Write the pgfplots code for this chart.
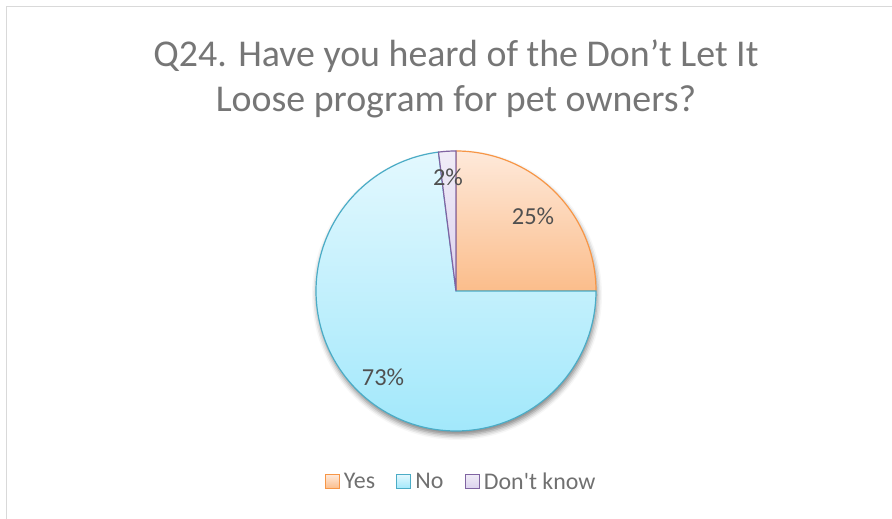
\documentclass[border=0pt]{standalone}
\usepackage{pgfplots}
\pgfplotsset{compat=1.18}
\usepackage{pgfplotstable}
\usepackage{fontspec}
\setmainfont{Carlito}
\newfontfamily\plainfont{Carlito}
\usetikzlibrary{shadows.blur}

\definecolor{titlegray}{HTML}{767676}
\definecolor{labelgray}{HTML}{505050}
\definecolor{legendgray}{HTML}{707070}
\definecolor{framegray}{HTML}{D9D9D9}
\definecolor{yesline}{HTML}{F79646}
\definecolor{yestop}{HTML}{FEE9DA}
\definecolor{yesbot}{HTML}{FBBD8B}
\definecolor{noline}{HTML}{4BACC6}
\definecolor{notop}{HTML}{E3F8FE}
\definecolor{nobot}{HTML}{A2E8FB}
\definecolor{dkline}{HTML}{8064A2}
\definecolor{dktop}{HTML}{F0ECF7}
\definecolor{dkbot}{HTML}{DCD2EE}

% answer shares in percent
\pgfplotstableread{
answer share
Yes    25
No     73
DK     2
}\piedata

\pgfplotstablegetelem{0}{share}\of\piedata \let\sYes\pgfplotsretval
\pgfplotstablegetelem{1}{share}\of\piedata \let\sNo\pgfplotsretval
\pgfplotstablegetelem{2}{share}\of\piedata \let\sDK\pgfplotsretval

% slices run clockwise from twelve o'clock
\pgfmathsetmacro\aA{90}
\pgfmathsetmacro\aB{\aA-3.6*\sYes}
\pgfmathsetmacro\aC{\aB-3.6*\sNo}
\pgfmathsetmacro\aD{\aC-3.6*\sDK}

\def\cx{456}
\def\cy{228}
\def\r{140}

\begin{document}
\begin{tikzpicture}
\begin{axis}[
  scale only axis, width=892bp, height=519bp,
  xmin=0, xmax=892, ymin=0, ymax=519,
  hide axis, clip=false,
  legend columns=3,
  legend style={at={(axis cs:461,37)}, anchor=center, draw=none, fill=none,
    font=\plainfont\fontsize{24}{28}\selectfont\color{legendgray},
    /tikz/every odd column/.append style={column sep=2bp},
    /tikz/every even column/.append style={column sep=19bp}},
  legend image code/.code={\draw[#1, line width=1.4bp] (0bp,-6.5bp) rectangle (14bp,7.5bp);},
]
% chart frame
\draw[framegray, line width=1.5bp] (axis cs:6.5,0) -- (axis cs:6.5,512.5) -- (axis cs:892,512.5);

% soft shadow under the pie
\fill[white, blur shadow={shadow xshift=1bp, shadow yshift=-4bp, shadow blur radius=5bp, shadow opacity=50}]
  (axis cs:\cx,\cy) circle[radius=\r bp];

\addplot[draw=yesline, line width=1.2bp, top color=yestop, bottom color=yesbot,
  domain=\aB:\aA, samples=91, smooth]
  ({\cx+\r*cos(x)},{\cy+\r*sin(x)}) -- (axis cs:\cx,\cy) -- cycle;
\addplot[draw=noline, line width=1.2bp, top color=notop, bottom color=nobot,
  domain=\aC:\aB, samples=181, smooth]
  ({\cx+\r*cos(x)},{\cy+\r*sin(x)}) -- (axis cs:\cx,\cy) -- cycle;
\addplot[draw=dkline, line width=1.2bp, top color=dktop, bottom color=dkbot,
  domain=\aD:\aC, samples=11, smooth]
  ({\cx+\r*cos(x)},{\cy+\r*sin(x)}) -- (axis cs:\cx,\cy) -- cycle;

\addlegendimage{draw=yesline, fill=yesbot!55!white}
\addlegendentry{Yes}
\addlegendimage{draw=noline, fill=nobot!50!white}
\addlegendentry{No}
\addlegendimage{draw=dkline, fill=dkbot!70!white}
\addlegendentry{Don't know}

% data labels
\node[labelgray, font=\fontsize{24.5}{26}\selectfont] at (axis cs:533,303) {\sYes\%};
\node[labelgray, font=\fontsize{24.5}{26}\selectfont] at (axis cs:448,342) {\sDK\%};
\node[labelgray, font=\fontsize{24.5}{26}\selectfont] at (axis cs:383,142) {\sNo\%};

% title
\node[titlegray, align=center, font=\fontsize{38}{45}\selectfont] at (axis cs:456,440)
  {Q24. Have you heard of the Don’t Let It\\Loose program for pet owners?};
\end{axis}
\pgfresetboundingbox
\path[use as bounding box] (0,0) rectangle (892bp,519bp);
\end{tikzpicture}
\end{document}
